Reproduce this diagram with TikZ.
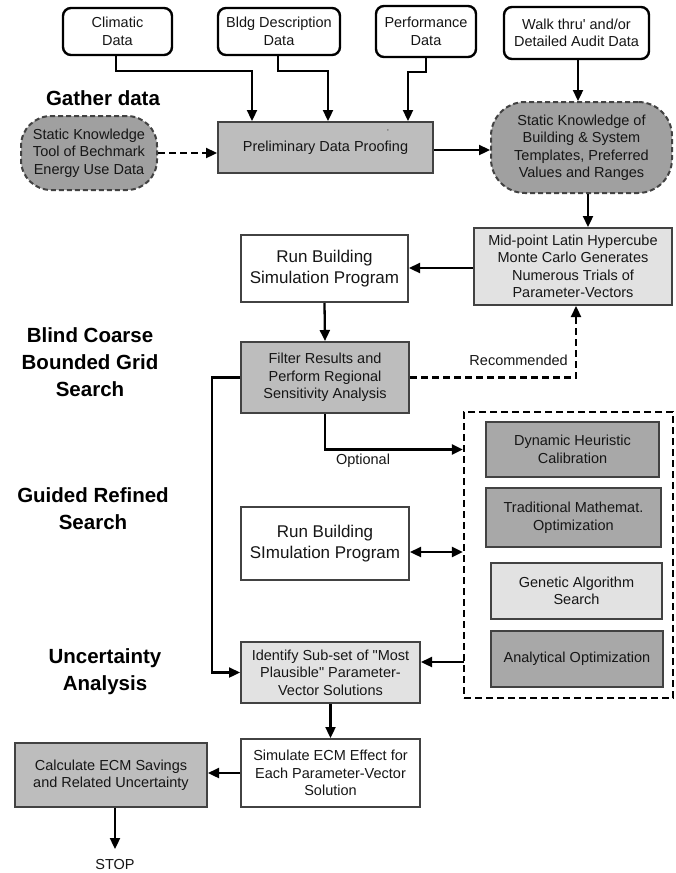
\documentclass[tikz,border=0pt]{standalone}
\usepackage{fontspec}
\setmainfont{Liberation Sans}[Ligatures=TeXOff]
\usetikzlibrary{arrows.meta,calc}
\definecolor{medgray}{HTML}{BDBDBD}
\definecolor{darkfill}{HTML}{A8A8A8}
\definecolor{skgray}{HTML}{A0A0A0}
\definecolor{lightfill}{HTML}{E2E2E2}
\definecolor{boxline}{HTML}{424242}
\definecolor{txt}{HTML}{161616}
\begin{document}
\begin{tikzpicture}[x=1pt,y=-1pt,
  box/.style={draw=boxline, line width=2pt, text=txt, align=center, inner sep=2pt,
    font=\fontsize{14.5}{17.5}\selectfont},
  topbox/.style={box, draw=black, line width=2.4pt, rounded corners=8pt, fill=white},
  skbox/.style={box, fill=skgray, dash pattern=on 5pt off 3pt, rounded corners=30pt},
  midbox/.style={box, fill=medgray},
  darkbox/.style={box, fill=darkfill},
  lightbox/.style={box, fill=lightfill},
  whitebox/.style={box, fill=white},
  runbox/.style={box, fill=white, font=\fontsize{17}{21.5}\selectfont},
  seclabel/.style={text=black, align=center, font=\bfseries\fontsize{20.5}{27}\selectfont},
  smalllabel/.style={text=txt, font=\fontsize{14.5}{17.5}\selectfont, inner sep=1pt},
  arr/.style={draw=black, line width=2.3pt, -{Triangle[length=11pt,width=10pt]}},
  darr/.style={draw=black, line width=2.3pt, {Triangle[length=11pt,width=10pt]}-{Triangle[length=11pt,width=10pt]}},
  dasharr/.style={arr, dash pattern=on 7pt off 4pt}
]
\useasboundingbox[fill=white] (0,0) rectangle (676,873);

% top data boxes
\node[topbox, minimum width=109pt, minimum height=47pt] (clim) at (117.5,31.5) {Climatic\\Data};
\node[topbox, minimum width=122pt, minimum height=47pt] (bldg) at (279,31.5) {Bldg Description\\Data};
\node[topbox, minimum width=100pt, minimum height=51pt] (perf) at (426,31.5) {Performance\\Data};
\node[topbox, minimum width=145pt, minimum height=52pt] (walk) at (576.5,33) {Walk thru' and/or\\Detailed Audit Data};

% gather data row
\node[seclabel] (gather) at (103,98) {Gather data};
\node[skbox, minimum width=136pt, minimum height=74pt] (sk1) at (89,153) {Static Knowledge\\Tool of Bechmark\\Energy Use Data};
\node[midbox, minimum width=215pt, minimum height=51pt] (prelim) at (325.5,147.5) {Preliminary Data Proofing};
\node[text=txt, font=\fontsize{7}{8}\selectfont, inner sep=0pt] (tick) at (388,132) {'};
\node[skbox, minimum width=181pt, minimum height=91pt, rounded corners=34pt] (sk2) at (581.5,147.5) {Static Knowledge of\\Building \& System\\Templates, Preferred\\Values and Ranges};

% blind coarse search
\node[lightbox, minimum width=198pt, minimum height=77pt] (mid) at (573,266.5) {Mid-point Latin Hypercube\\Monte Carlo Generates\\Numerous Trials of\\Parameter-Vectors};
\node[runbox, minimum width=167pt, minimum height=67pt] (run1) at (324.5,268.5) {Run Building\\Simulation Program};
\node[midbox, minimum width=168pt, minimum height=71pt] (filter) at (325,377.5) {Filter Results and\\Perform Regional\\Sensitivity Analysis};
\node[seclabel] (blind) at (90,362) {Blind Coarse\\Bounded Grid\\Search};
\node[smalllabel, anchor=east] (recom) at (569,360) {Recommended};
\node[smalllabel] (optional) at (363,461) {Optional};

% guided refined search
\node[draw=black, line width=2.3pt, dash pattern=on 7pt off 4pt, minimum width=209pt, minimum height=286pt, inner sep=0pt] (dbox) at (568.5,555) {};
\node[darkbox, minimum width=173pt, minimum height=55pt] (dyn) at (572.5,449.5) {Dynamic Heuristic\\Calibration};
\node[darkbox, minimum width=175pt, minimum height=59pt] (trad) at (573.5,517.5) {Traditional Mathemat.\\Optimization};
\node[lightbox, minimum width=171pt, minimum height=56pt] (gen) at (576.5,591) {Genetic Algorithm\\Search};
\node[darkbox, minimum width=172pt, minimum height=56pt] (anal) at (577,659) {Analytical Optimization};
\node[runbox, minimum width=168pt, minimum height=73pt] (run2) at (325,543.5) {Run Building\\SImulation Program};
\node[seclabel] (guided) at (93,508.5) {Guided Refined\\Search};

% uncertainty analysis
\node[lightbox, minimum width=179pt, minimum height=61pt] (ident) at (330.5,672.5) {Identify Sub-set of "Most\\Plausible" Parameter-\\Vector Solutions};
\node[whitebox, minimum width=179pt, minimum height=68pt] (simul) at (330.5,773) {Simulate ECM Effect for\\Each Parameter-Vector\\Solution};
\node[midbox, minimum width=192pt, minimum height=64pt] (calc) at (111,775) {Calculate ECM Savings\\and Related Uncertainty};
\node[seclabel] (uncert) at (105,671.5) {Uncertainty\\Analysis};
\node[smalllabel, anchor=north] (stop) at (115,858) {STOP};

% helper coordinates
\coordinate (c1) at (252,71);
\coordinate (c2) at (328,71);
\coordinate (c3) at (408,72);
\coordinate (k1) at ($(sk2.south)+(6.5,0)$);
\coordinate (rc) at (576,0);
\coordinate (lc) at (212,0);
\coordinate (d1) at ($(run2.east)+(0,8.5)$);
\coordinate (d2) at (464,662);

% connectors
\draw[arr] ([xshift=-1.5pt]clim.south) |- (c1) -- (c1 |- prelim.north);
\draw[arr] ([xshift=-1pt]bldg.south) |- (c2) -- (c2 |- prelim.north);
\draw[arr] (perf.south) |- (c3) -- (c3 |- prelim.north);
\draw[arr] ([xshift=1.5pt]walk.south) -- ([xshift=1.5pt]walk.south |- sk2.north);
\draw[dasharr] (sk1.east) -- (sk1.east -| prelim.west);
\draw[arr] ([yshift=-2.5pt]prelim.east) -- ([yshift=-2.5pt]prelim.east -| sk2.west);
\draw[arr] (k1) -- (k1 |- mid.north);
\draw[arr] ([yshift=-1.5pt]mid.west) -- ([yshift=-1.5pt]mid.west -| run1.east);
\draw[arr] (run1.south) -- (filter.north);
\draw[dasharr] (filter.east) -| (rc |- mid.south);
\draw[arr] (filter.west) -- (filter.west -| lc) |- (ident.west);
\draw[arr] (filter.south) |- (dyn.west -| dbox.west);
\draw[darr] (d1) -- (d1 -| dbox.west);
\draw[arr] (d2) -- (d2 -| ident.east);
\draw[arr] (ident.south) -- (simul.north);
\draw[arr] (simul.west) -- (simul.west -| calc.east);
\draw[arr] (stop.north |- calc.south) -- ([yshift=9pt]stop.north);
\end{tikzpicture}
\end{document}
